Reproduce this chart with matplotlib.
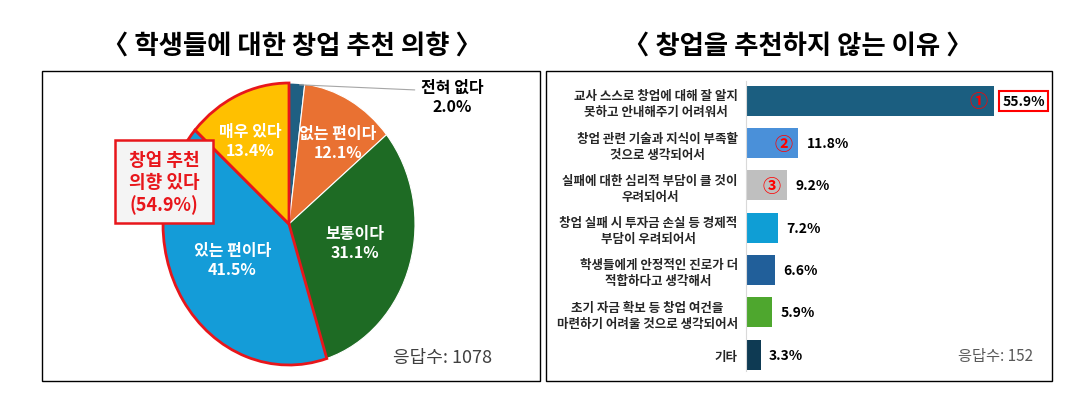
import numpy as np
import matplotlib
matplotlib.use('Agg')
from matplotlib import pyplot as plt
from matplotlib.patches import Rectangle

plt.rcParams['font.family'] = ['Noto Sans CJK KR', 'DejaVu Sans']

# 데이터: 창업 추천 의향 (파이)
pie_labels = ['전혀 없다', '없는 편이다', '보통이다', '있는 편이다', '매우 있다']
pie_values = [2.0, 12.1, 31.1, 41.5, 13.4]
pie_colors = ['#1F5F82', '#E97132', '#1E6B24', '#149CD8', '#FFC000']
pie_n = 1078

# 데이터: 추천하지 않는 이유 (막대)
bar_labels = ['교사 스스로 창업에 대해 잘 알지\n못하고 안내해주기 어려워서',
              '창업 관련 기술과 지식이 부족할\n것으로 생각되어서',
              '실패에 대한 심리적 부담이 클 것이\n우려되어서',
              '창업 실패 시 투자금 손실 등 경제적\n부담이 우려되어서',
              '학생들에게 안정적인 진로가 더\n적합하다고 생각해서',
              '초기 자금 확보 등 창업 여건을\n마련하기 어려울 것으로 생각되어서',
              '기타']
bar_values = [55.9, 11.8, 9.2, 7.2, 6.6, 5.9, 3.3]
bar_colors = ['#1B5E80', '#4A90D9', '#BFBFBF', '#0F9ED5', '#215F9A', '#4EA72E', '#0E3A53']
bar_ranks = ['①', '②', '③']
bar_n = 152

W, H = 1092, 406
fig = plt.figure(figsize=(W / 100, H / 100), dpi=100)

def fx(px):
    return px / W

def fy(py):
    return 1 - py / H

def ax_rect(x0, y0, x1, y1):
    return [fx(x0), fy(y1), fx(x1) - fx(x0), fy(y0) - fy(y1)]

# 패널 테두리
for x0, x1 in [(42, 540), (546, 1052)]:
    fig.patches.append(Rectangle((fx(x0), fy(382)), fx(x1) - fx(x0), fy(72) - fy(382),
                                 transform=fig.transFigure, fill=False,
                                 edgecolor='black', linewidth=1.0))

# 제목
fig.text(fx(292), fy(46), '〈 학생들에 대한 창업 추천 의향 〉', ha='center', va='center',
         fontsize=19, fontweight='bold')
fig.text(fx(798), fy(46), '〈 창업을 추천하지 않는 이유 〉', ha='center', va='center',
         fontsize=19, fontweight='bold')

# ---- 파이 차트 ----
ax1 = fig.add_axes(ax_rect(163, 84, 415, 366))
wedges, _ = ax1.pie(pie_values, colors=pie_colors, startangle=90, counterclock=False,
                    wedgeprops=dict(edgecolor='white', linewidth=0.8))
ax1.set_aspect('auto')
ax1.set_xlim(-1, 1)
ax1.set_ylim(-1, 1)
# 창업 추천 의향 있다 -> 빨간 테두리
for i in [3, 4]:
    wedges[i].set_edgecolor('#E8161B')
    wedges[i].set_linewidth(2)
    wedges[i].set_zorder(3)

# 조각 안 라벨 위치 (축 좌표)
label_pos = [None, (0.39, 0.58), (0.52, -0.13), (-0.45, -0.25), (-0.31, 0.59)]
for i, pos in enumerate(label_pos):
    if pos is None:
        continue
    ax1.text(pos[0], pos[1], f'{pie_labels[i]}\n{pie_values[i]:.1f}%', ha='center', va='center',
             color='white', fontsize=11.5, fontweight='bold', linespacing=1.25, zorder=5)

# 전혀 없다 (바깥 라벨)
mid0 = np.deg2rad((wedges[0].theta1 + wedges[0].theta2) / 2)
ax1.annotate('', xy=(np.cos(mid0) * 0.99, np.sin(mid0) * 0.99), xytext=(1.02, 0.95),
             arrowprops=dict(arrowstyle='-', color='#A6A6A6', linewidth=0.8))
fig.text(fx(452), fy(97), f'{pie_labels[0]}\n{pie_values[0]:.1f}%', ha='center', va='center',
         fontsize=11.5, fontweight='bold', linespacing=1.25)

# 추천 의향 합계 박스
fig.patches.append(Rectangle((fx(115), fy(224)), fx(213) - fx(115), fy(141) - fy(224),
                             transform=fig.transFigure, facecolor='#F4F4F4',
                             edgecolor='#E8161B', linewidth=1.8, zorder=6))
yes_sum = pie_values[3] + pie_values[4]
fig.text(fx(164), fy(183), f'창업 추천\n의향 있다\n({yes_sum:.1f}%)', ha='center', va='center',
         color='#E8161B', fontsize=13, fontweight='bold', linespacing=1.2, zorder=7)

fig.text(fx(443), fy(358), f'응답수: {pie_n}', ha='center', va='center',
         fontsize=13, color='#404040')

# ---- 막대 차트 ----
ax2 = fig.add_axes(ax_rect(746, 82, 1012, 372))
y = np.arange(len(bar_values))
ax2.barh(y, bar_values, height=0.71, color=bar_colors)
ax2.set_xlim(0, 60)
ax2.set_ylim(6.39, -0.47)
ax2.set_xticks([])
ax2.set_yticks(y, bar_labels, fontsize=9, fontweight='bold', color='#262626')
ax2.tick_params(axis='y', length=0, pad=6)
for t in ax2.get_yticklabels():
    t.set_multialignment('center')
    t.set_linespacing(1.3)
for s in ['top', 'right', 'bottom']:
    ax2.spines[s].set_visible(False)
ax2.spines['left'].set_color('#D9D9D9')

for i, v in enumerate(bar_values):
    box = dict(boxstyle='square,pad=0.2', facecolor='white', edgecolor='#FF0000',
               linewidth=1.5) if i == 0 else None
    ax2.annotate(f'{v:.1f}%', (v, i), xytext=(6, 0), textcoords='offset points',
                 ha='left', va='center', fontsize=10, fontweight='bold', bbox=box)
for i, r in enumerate(bar_ranks):
    ax2.annotate(r, (bar_values[i], i), xytext=(-11, 0), textcoords='offset points',
                 ha='center', va='center', fontsize=13, fontweight='bold', color='#FF0000')

fig.text(fx(995), fy(357), f'응답수: {bar_n}', ha='center', va='center',
         fontsize=11, color='#595959')

fig.savefig('out.png', dpi=100)
